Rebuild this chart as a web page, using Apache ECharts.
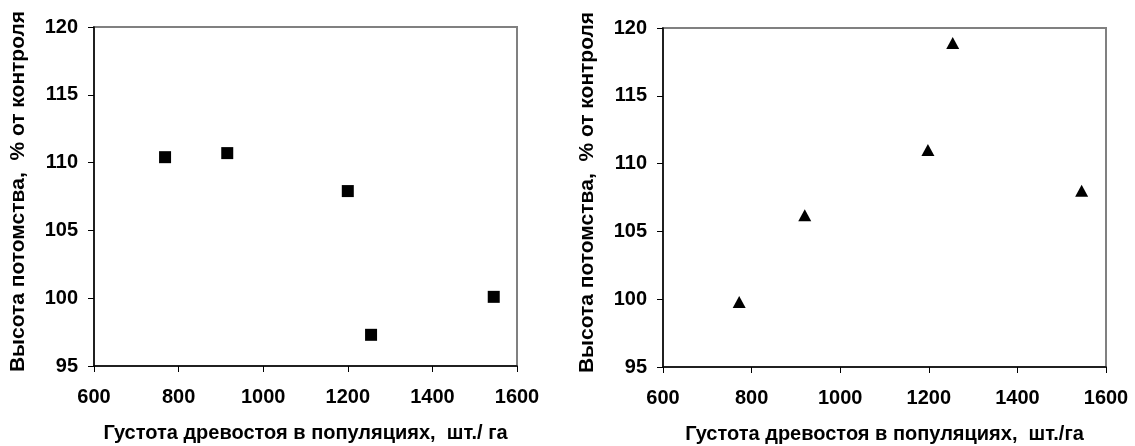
<!DOCTYPE html>
<html>
<head>
<meta charset="utf-8">
<script src="https://cdn.jsdelivr.net/npm/echarts@6/dist/echarts.min.js"></script>
<style>
  html, body { margin: 0; padding: 0; background: #fff; }
  #chart { width: 1135px; height: 446px; }
</style>
</head>
<body>
<div id="chart"></div>
<script>
// левый график (квадраты)
var densityLeft = [768, 915, 1200, 1255, 1545]
var heightLeft = [110.4, 110.7, 107.9, 97.3, 100.1]
// правый график (треугольники)
var densityRight = [772, 920, 1198, 1254, 1545]
var heightRight = [99.8, 106.2, 111.0, 118.9, 108.0]

var xNameLeft = 'Густота древостоя в популяциях,  шт./ га'
var xNameRight = 'Густота древостоя в популяциях,  шт./га'
var yName = 'Высота потомства,  % от контроля'

var font = '"Liberation Sans", Arial, sans-serif'

function pairs(xs, ys) {
  return xs.map(function (x, i) { return [x, ys[i]] })
}

function xAxis(idx, name) {
  return {
    type: 'value',
    gridIndex: idx,
    min: 600,
    max: 1600,
    interval: 200,
    name: name,
    nameLocation: 'middle',
    nameGap: 57,
    nameTextStyle: { color: '#000', fontSize: 20, fontWeight: 'bold', fontFamily: font },
    axisLine: { show: true, lineStyle: { color: '#000', width: 1.5 } },
    axisTick: { show: true, length: 6, lineStyle: { color: '#000', width: 1 } },
    axisLabel: {
      color: '#000', fontSize: 20, fontWeight: 'bold', fontFamily: font, margin: 21,
      formatter: function (v) { return String(v) },
    },
    splitLine: { show: false },
  }
}

function yAxis(idx) {
  return {
    type: 'value',
    gridIndex: idx,
    min: 95,
    max: 120,
    interval: 5,
    name: yName,
    nameLocation: 'middle',
    nameGap: 65,
    nameTextStyle: { color: '#000', fontSize: 21, fontWeight: 'bold', fontFamily: font, padding: [0, 0, 0, 10] },
    axisLine: { show: true, lineStyle: { color: '#000', width: 1.5 } },
    axisTick: { show: true, length: 6, lineStyle: { color: '#000', width: 1 } },
    axisLabel: { color: '#000', fontSize: 20, fontWeight: 'bold', fontFamily: font, margin: 16 },
    splitLine: { show: false },
  }
}

var myChart = echarts.init(document.getElementById('chart'))

var option = {
  animation: false,
  backgroundColor: '#fff',
  grid: [
    { left: 94, top: 27, width: 423, height: 339, outerBoundsMode: 'none', show: true, borderColor: '#808080', borderWidth: 2, backgroundColor: 'transparent' },
    { left: 663, top: 28, width: 443, height: 339, outerBoundsMode: 'none', show: true, borderColor: '#808080', borderWidth: 2, backgroundColor: 'transparent' },
  ],
  xAxis: [xAxis(0, xNameLeft), xAxis(1, xNameRight)],
  yAxis: [yAxis(0), yAxis(1)],
  series: [
    {
      type: 'scatter',
      xAxisIndex: 0,
      yAxisIndex: 0,
      symbol: 'rect',
      symbolSize: 12,
      itemStyle: { color: '#000', opacity: 1 },
      data: pairs(densityLeft, heightLeft),
    },
    {
      type: 'scatter',
      xAxisIndex: 1,
      yAxisIndex: 1,
      symbol: 'triangle',
      symbolSize: [13, 12],
      itemStyle: { color: '#000', opacity: 1 },
      data: pairs(densityRight, heightRight),
    },
  ],
}

myChart.setOption(option)
</script>
</body>
</html>
